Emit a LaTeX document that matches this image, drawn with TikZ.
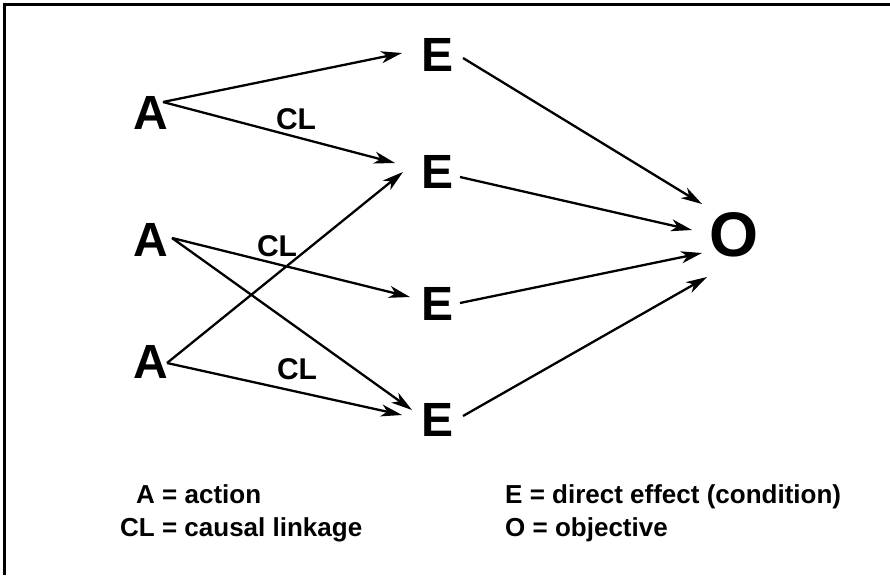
\documentclass[tikz,border=0pt]{standalone}
\usepackage{fontspec}
\setmainfont{Liberation Sans}
\usetikzlibrary{arrows.meta, positioning}

\begin{document}
\begin{tikzpicture}[x=1pt, y=-1pt,
    letter/.style={inner sep=0pt, font=\fontsize{48}{48}\selectfont\bfseries},
    goal/.style={inner sep=0pt, font=\fontsize{63}{63}\selectfont\bfseries},
    linklabel/.style={inner sep=0pt, font=\fontsize{30}{30}\selectfont\bfseries},
    legend/.style={inner sep=0pt, anchor=base west, font=\fontsize{26}{30}\selectfont\bfseries},
    link/.style={line width=2.3pt, -{Stealth[length=21pt, width=12pt, inset=6pt]}}]

    \useasboundingbox (0,0) rectangle (890,575);

    % Frame (top and left edges)
    \draw[line width=2.5pt] (4.5,575) -- (4.5,4.5) -- (890,4.5);

    % Actions
    \node[letter] (act1) at (151,113) {A};
    \node[letter] (act2) at (151,240) {A};
    \node[letter] (act3) at (151,362) {A};

    % Direct effects
    \node[letter] (eff1) at (438,55) {E};
    \node[letter] (eff2) at (438,172) {E};
    \node[letter] (eff3) at (438,304) {E};
    \node[letter] (eff4) at (438,420) {E};

    % Objective
    \node[goal] (obj) at (734,235) {O};

    % Causal linkage labels
    \node[linklabel] (cl1) at (296,119) {CL};
    \node[linklabel] (cl2) at (277,246) {CL};
    \node[linklabel] (cl3) at (297,369) {CL};

    % Actions to effects
    \draw[link] ([shift={(12,-11)}]act1.center) -- ([shift={(-36,-2)}]eff1.center);
    \draw[link] ([shift={(12,-11)}]act1.center) -- ([shift={(-43,-9)}]eff2.center);
    \draw[link] ([shift={(16,1)}]act3.center) -- ([shift={(-35,0)}]eff2.center);
    \draw[link] ([shift={(21,-2)}]act2.center) -- ([shift={(-28,-7)}]eff3.center);
    \draw[link] ([shift={(21,-2)}]act2.center) -- ([shift={(-26,-10)}]eff4.center);
    \draw[link] ([shift={(16,1)}]act3.center) -- ([shift={(-36,-5)}]eff4.center);

    % Effects to objective
    \draw[link] ([shift={(25,3)}]eff1.center) -- ([shift={(-32,-31)}]obj.center);
    \draw[link] ([shift={(22,5)}]eff2.center) -- ([shift={(-42,-5)}]obj.center);
    \draw[link] ([shift={(22,-1)}]eff3.center) -- ([shift={(-32,18)}]obj.center);
    \draw[link] ([shift={(25,-4)}]eff4.center) -- ([shift={(-27,42)}]obj.center);

    % Legend
    \node[legend] (leg_a) at (136,503) {A = action};
    \node[legend] (leg_cl) at (120,536) {CL = causal linkage};
    \node[legend] (leg_e) at (505,503) {E = direct effect (condition)};
    \node[legend] (leg_o) at (505,536) {O = objective};
\end{tikzpicture}
\end{document}
